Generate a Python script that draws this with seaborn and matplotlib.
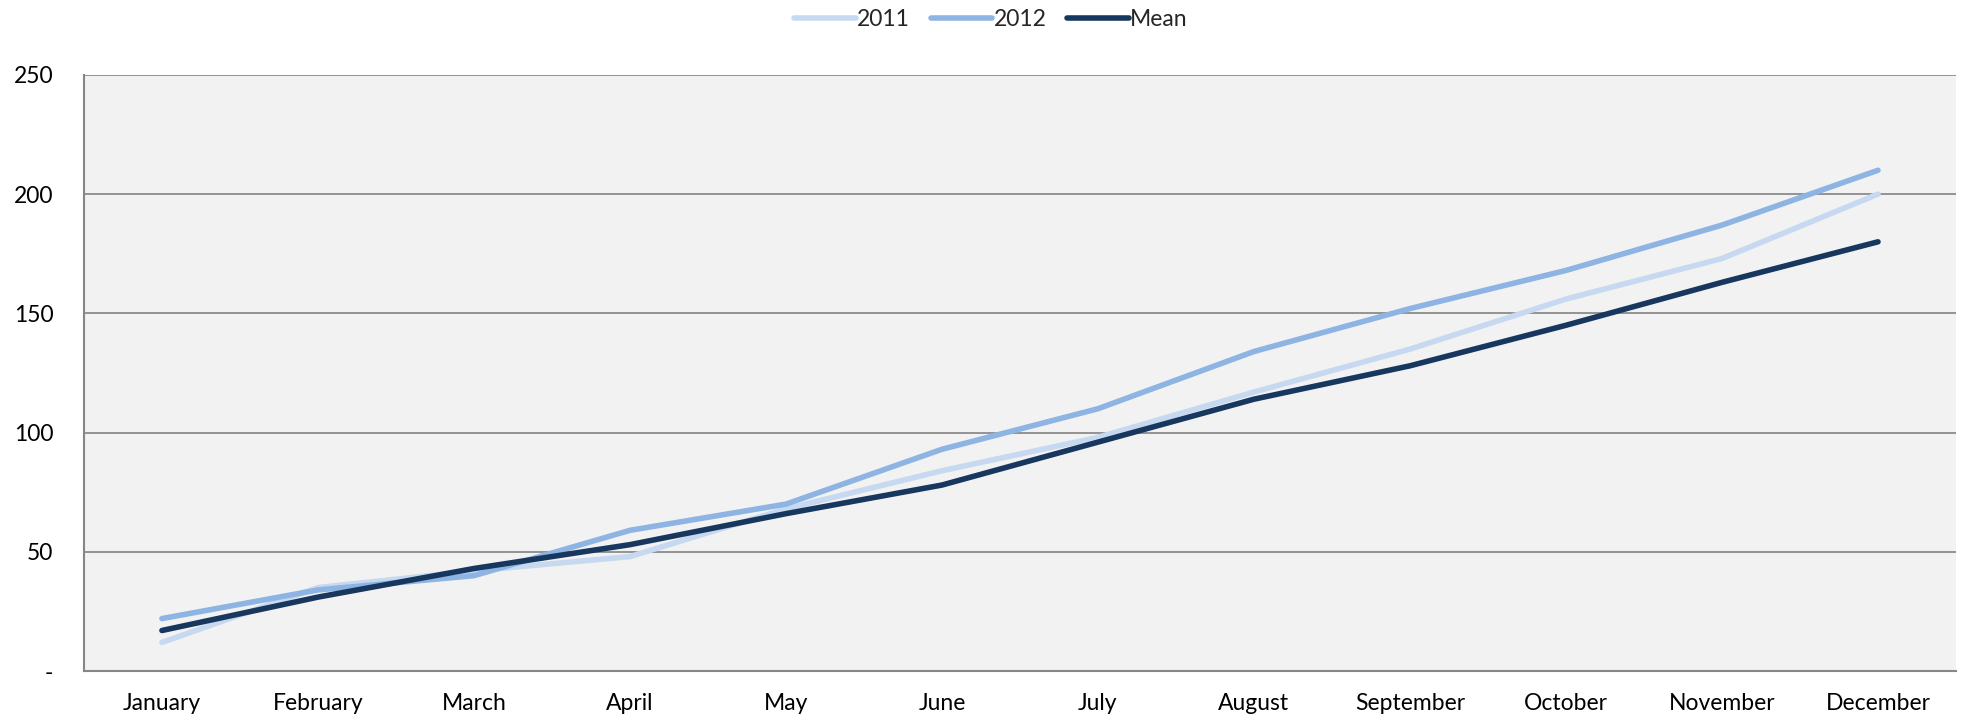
import numpy as np
import pandas as pd
import matplotlib.pyplot as plt
import seaborn as sns

months = ['January', 'February', 'March', 'April', 'May', 'June', 'July',
          'August', 'September', 'October', 'November', 'December']
y2011 = [12, 35, 42, 48, 68, 84, 98, 117, 135, 156, 173, 200]
y2012 = [22, 34, 40, 59, 70, 93, 110, 134, 152, 168, 187, 210]
mean = [17, 31, 43, 53, 66, 78, 96, 114, 128, 145, 163, 180]
y_ticks = [0, 50, 100, 150, 200, 250]
y_tick_labels = ['-', '50', '100', '150', '200', '250']

df = pd.DataFrame({'month': months, '2011': y2011, '2012': y2012, 'Mean': mean})
data_long = pd.melt(df, id_vars=['month'], value_vars=['2011', '2012', 'Mean'],
                    var_name='series', value_name='value')

sns.set_style("white")
plt.rcParams['font.family'] = ['Lato', 'DejaVu Sans']
fs = 16.5

fig = plt.figure(figsize=(19.7, 7.2), dpi=100)
ax = fig.add_axes([0.0426, 0.068, 0.9503, 0.828])
ax.set_facecolor('#f2f2f2')

palette = {'2011': '#c6d9f1', '2012': '#8db4e2', 'Mean': '#17375e'}
sns.lineplot(data=data_long, x='month', y='value', hue='series', palette=palette,
             linewidth=4, sort=False, ax=ax, solid_capstyle='round')

ax.set_xlim(-0.5, 11.5)
ax.set_ylim(0, 250)
ax.set_yticks(y_ticks)
ax.set_yticklabels(y_tick_labels)
ax.set_xticks(np.arange(12))
ax.set_xticklabels(months)
ax.set_xticks(np.arange(-0.5, 12, 1), minor=True)
ax.tick_params(axis='x', which='major', length=0, pad=16, labelsize=fs, labelcolor='black')
ax.tick_params(axis='x', which='minor', length=7, color='#868686', width=1.5, direction='out')
ax.tick_params(axis='y', length=8, color='#868686', width=1.5, pad=14, labelsize=fs, labelcolor='black')
ax.grid(axis='y', color='#8c8c8c', linewidth=1.3)
ax.set_axisbelow(True)
for side in ['top', 'right']:
    ax.spines[side].set_visible(False)
for side in ['left', 'bottom']:
    ax.spines[side].set_color('#868686')
    ax.spines[side].set_linewidth(1.5)
ax.set_xlabel('')
ax.set_ylabel('')

handles, labels = ax.get_legend_handles_labels()
for h in handles:
    h.set_solid_capstyle('round')
ax.legend(handles, labels, loc='center', bbox_to_anchor=(0.503, 0.973),
          bbox_transform=fig.transFigure, ncol=3, frameon=False,
          handlelength=2.7, handletextpad=0.05, columnspacing=0.9, fontsize=fs)

fig.savefig('out.png', dpi=100, facecolor='white')
